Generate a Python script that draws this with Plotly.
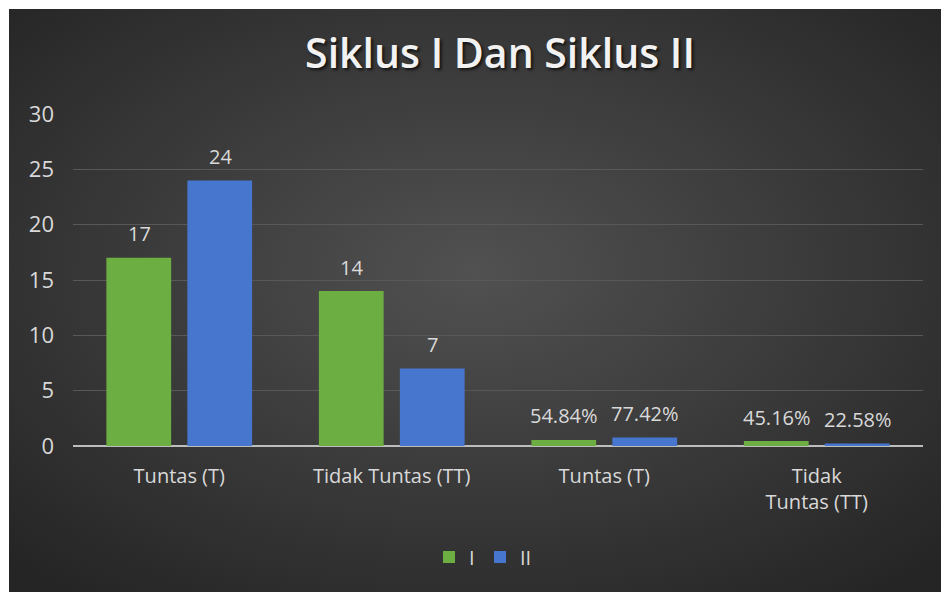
import base64
import plotly.graph_objects as go

# ---- data ----
categories = ["Tuntas (T)", "Tidak Tuntas (TT)", "Tuntas (T)", "Tidak<br>Tuntas (TT)"]
series_names = ["I", "II"]
values_I = [17, 14, 0.5484, 0.4516]
values_II = [24, 7, 0.7742, 0.2258]
labels_I = ["17", "14", "54.84%", "45.16%"]
labels_II = ["24", "7", "77.42%", "22.58%"]
y_ticks = [0, 5, 10, 15, 20, 25, 30]

FONT = "Open Sans"
TXT = "#d9d9d9"
GREEN = "#6cae41"
BLUE = "#4776cf"

x_idx = list(range(len(categories)))

fig = go.Figure()
fig.add_trace(go.Bar(name=series_names[0], x=x_idx, y=values_I, marker=dict(color=GREEN, line=dict(width=0))))
fig.add_trace(go.Bar(name=series_names[1], x=x_idx, y=values_II, marker=dict(color=BLUE, line=dict(width=0))))

annotations = []
for vals, labs, dx in ((values_I, labels_I, -40), (values_II, labels_II, 41)):
    for i, (v, t) in enumerate(zip(vals, labs)):
        annotations.append(dict(x=i, y=v, xref="x", yref="y", text=t, showarrow=False,
                                xshift=dx, yshift=24, yanchor="middle",
                                font=dict(family=FONT, size=20, color=TXT)))

# background: dark radial gradient inside a white frame
W, H = 932, 583
svg = (f'<svg xmlns="http://www.w3.org/2000/svg" width="{W}" height="{H}">'
       '<defs><radialGradient id="g" cx="50%" cy="45%" r="70%">'
       '<stop offset="0" stop-color="#515151"/><stop offset="1" stop-color="#252525"/>'
       '</radialGradient></defs>'
       f'<rect width="{W}" height="{H}" fill="url(#g)"/></svg>')
src = "data:image/svg+xml;base64," + base64.b64encode(svg.encode()).decode()

L, R, T, B = 73, 18, 114, 146
pw, ph = 941 - L - R, 592 - T - B

fig.update_layout(
    width=941, height=592,
    margin=dict(l=L, r=R, t=T, b=B, autoexpand=False),
    paper_bgcolor="white",
    plot_bgcolor="rgba(0,0,0,0)",
    barmode="group", bargap=0.238, bargroupgap=0.2,
    images=[dict(source=src, xref="paper", yref="paper",
                 x=(9 - L) / pw, y=(592 - B - 9) / ph,
                 sizex=W / pw, sizey=H / ph, sizing="stretch",
                 xanchor="left", yanchor="top", layer="below")],
    title=dict(text="Siklus I Dan Siklus II", x=(500 - L) / pw, xref="paper", xanchor="center",
               y=1 - 54 / 592, yref="container", yanchor="middle",
               font=dict(family=FONT, size=41, color="#f2f2f2", weight=600,
                         shadow="2px 2px 3px rgba(0,0,0,0.7)")),
    xaxis=dict(tickvals=x_idx, ticktext=categories, range=[-0.5, 3.5], showgrid=False,
               showline=False, zeroline=False, ticks="", ticklabelstandoff=16,
               tickfont=dict(family=FONT, size=20, color=TXT), fixedrange=True),
    yaxis=dict(range=[0, 30], tickvals=y_ticks, showgrid=True, gridcolor="#585858", gridwidth=1.3,
               zeroline=True, zerolinecolor="#bdbdbd", zerolinewidth=2, showline=False,
               ticks="", ticklabelstandoff=18,
               tickfont=dict(family=FONT, size=22, color=TXT)),
    legend=dict(orientation="h", x=(480 - L) / pw, xanchor="center",
                y=-(557 - (592 - B)) / ph, yanchor="middle",
                entrywidth=6, entrywidthmode="pixels",
                font=dict(family=FONT, size=20, color=TXT), bgcolor="rgba(0,0,0,0)"),
    annotations=annotations,
    showlegend=True,
)

fig.write_html("out.html")
